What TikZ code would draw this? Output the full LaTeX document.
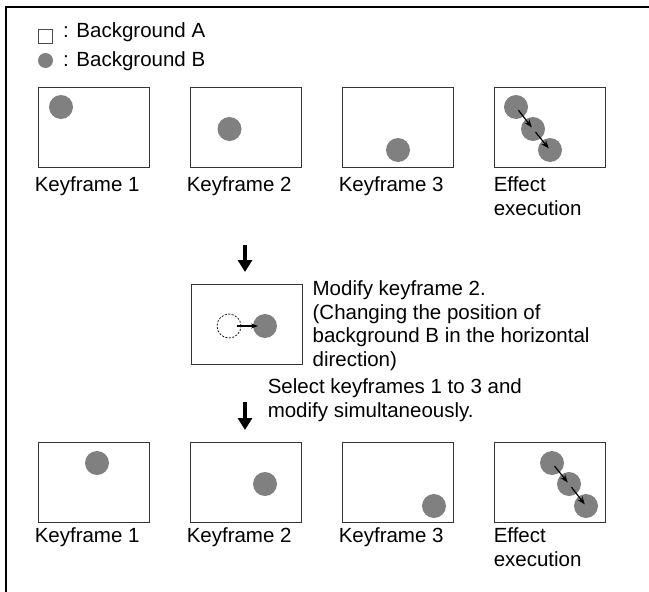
\documentclass[tikz,border=0pt]{standalone}
\usepackage{fontspec}
\setmainfont{Liberation Sans}
\usetikzlibrary{positioning}
\usetikzlibrary{arrows.meta}

\begin{document}
\begin{tikzpicture}[x=1pt,y=-1pt,
    frame/.style={draw=black!80,line width=0.9pt,minimum width=111pt,
                  minimum height=80pt,inner sep=0pt},
    ball/.style={circle,fill=black!50,minimum size=24pt,inner sep=0pt},
    ghost/.style={circle,draw,dash pattern=on 2pt off 1.5pt,line width=0.7pt,
                  minimum size=24pt,inner sep=0pt},
    caption/.style={anchor=base west,inner sep=0pt,align=left,
                    font=\fontsize{20.5}{23.7}\selectfont},
    move/.style={-{Stealth[length=8pt,width=6pt]},line width=1.2pt},
    down/.style={-{Triangle[length=12pt,width=14pt]},line width=4pt}]

  \useasboundingbox (0,0) rectangle (649,592);
  \draw[line width=2pt] (6,592) -- (6,7) -- (649,7);

  % legend
  \node[draw=black!70,line width=0.8pt,minimum size=14pt,inner sep=0pt] (bgA) at (45.5,36) {};
  \node[ball,minimum size=15pt] (bgB) at (45.5,60.5) {};
  \node[caption] (legA) at (63,37) {: Background A};
  \node[caption] (legB) at (63,66) {: Background B};

  % first row
  \node[frame] (k1) at (93.5,127)  {};
  \node[frame] (k2) at (245.5,127) {};
  \node[frame] (k3) at (397.5,127) {};
  \node[frame] (kx) at (549.5,127) {};

  \node[ball] (b1) at (61,107)    {};
  \node[ball] (b2) at (229.5,129) {};
  \node[ball] (b3) at (398,150)   {};
  \node[ball] (e1) at (516,107)   {};
  \node[ball] (e2) at (533,129)   {};
  \node[ball] (e3) at (550,150)   {};

  \path[move,shorten <=4pt,shorten >=2pt]
        (e1.center) edge (e2.center)
        (e2.center) edge (e3.center);

  % base anchor of a multi-line caption sits on its last line
  \node[caption] (t1) at ([xshift=-3pt,yshift=-24pt]k1.south west) {Keyframe 1};
  \node[caption] (t2) at ([xshift=-3pt,yshift=-24pt]k2.south west) {Keyframe 2};
  \node[caption] (t3) at ([xshift=-3pt,yshift=-24pt]k3.south west) {Keyframe 3};
  \node[caption] (tx) at ([xshift=0pt,yshift=-47.7pt]kx.south west) {Effect\\execution};

  % modification
  \coordinate (d1) at (245,245);
  \coordinate (d1e) at (245,272);
  \draw[down] (d1) -- (d1e);

  \node[frame] (m) at (246.5,324) {};
  \node[ghost] (g)  at (229,326) {};
  \node[ball]  (mb) at (265,326) {};
  \draw[move,-{Stealth[length=7pt,width=5pt]},shorten <=8pt,shorten >=7pt]
        (g.center) -- (mb.center);

  \node[caption] (note) at ([xshift=10pt,yshift=-83.1pt]m.north east)
        {Modify keyframe 2.\\(Changing the position of\\background B in the horizontal\\direction)};
  \node[caption] (sel) at ([xshift=77pt,yshift=-52.7pt]m.south west)
        {Select keyframes 1 to 3 and\\modify simultaneously.};

  \coordinate (d2) at (245,402);
  \coordinate (d2e) at (245,430);
  \draw[down] (d2) -- (d2e);

  % second row
  \node[frame] (r1) at (93.5,482.5)  {};
  \node[frame] (r2) at (245.5,482.5) {};
  \node[frame] (r3) at (397.5,482.5) {};
  \node[frame] (rx) at (549.5,482.5) {};

  \node[ball] (c1) at (97,463)  {};
  \node[ball] (c2) at (265,484) {};
  \node[ball] (c3) at (434,506) {};
  \node[ball] (f1) at (552,463) {};
  \node[ball] (f2) at (569,484) {};
  \node[ball] (f3) at (586,506) {};

  \path[move,shorten <=4pt,shorten >=2pt]
        (f1.center) edge (f2.center)
        (f2.center) edge (f3.center);

  \node[caption] (u1) at ([xshift=-3pt,yshift=-19.5pt]r1.south west) {Keyframe 1};
  \node[caption] (u2) at ([xshift=-3pt,yshift=-19.5pt]r2.south west) {Keyframe 2};
  \node[caption] (u3) at ([xshift=-3pt,yshift=-19.5pt]r3.south west) {Keyframe 3};
  \node[caption] (ux) at ([xshift=0pt,yshift=-43.2pt]rx.south west) {Effect\\execution};
\end{tikzpicture}
\end{document}
